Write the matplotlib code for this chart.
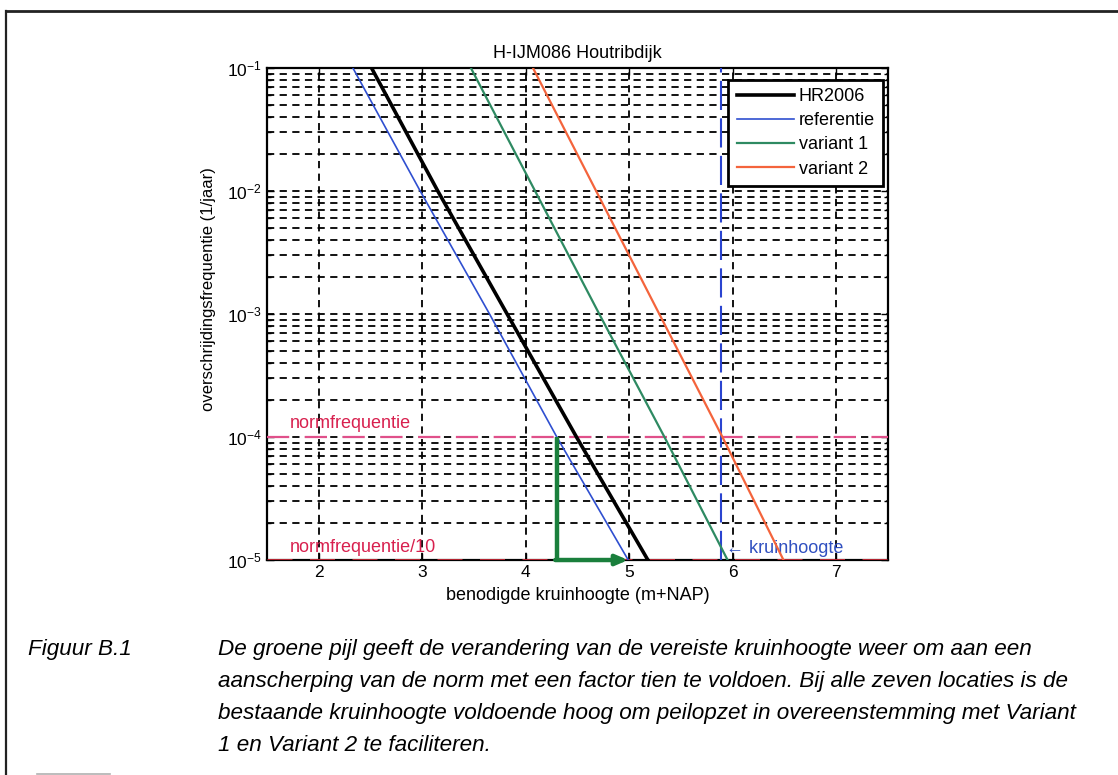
import numpy as np
import matplotlib
matplotlib.use("Agg")
import matplotlib.pyplot as plt
from matplotlib.lines import Line2D

plt.rcParams['font.family'] = ['Liberation Sans', 'DejaVu Sans']
plt.rcParams['mathtext.fontset'] = 'custom'
plt.rcParams['mathtext.rm'] = 'Liberation Sans'
plt.rcParams['mathtext.it'] = 'Liberation Sans:italic'
plt.rcParams['mathtext.bf'] = 'Liberation Sans:bold'

# overschrijdingsfrequentie (1/jaar) per decade
freq = [1e-1, 1e-2, 1e-3, 1e-4, 1e-5]
# benodigde kruinhoogte (m+NAP) bij die frequenties
hr2006 = [2.51, 3.15, 3.82, 4.49, 5.18]
referentie = [2.33, 2.98, 3.65, 4.30, 4.99]
variant1 = [3.47, 4.09, 4.71, 5.34, 5.95]
variant2 = [4.07, 4.68, 5.29, 5.90, 6.49]

series_names = ['HR2006', 'referentie', 'variant 1', 'variant 2']
series_vals = [hr2006, referentie, variant1, variant2]
series_cols = ['#000000', '#2f4fd0', '#2e8a62', '#f4643c']
series_lw = [2.6, 1.2, 1.6, 1.6]

norm = 1e-4
norm10 = norm / 10
kruinhoogte = 5.89
x_ticks = [2, 3, 4, 5, 6, 7]

fig = plt.figure(figsize=(11.18, 7.75), dpi=100)
ax = fig.add_axes([0.2388, 0.2774, 0.5555, 0.6349])

dash = (0, (4, 3))
ax.set_yscale('log')
ax.set_xlim(1.5, 7.5)
ax.set_ylim(norm10, 1e-1)
ax.set_xticks(x_ticks)
ax.grid(True, which='major', axis='both', color='k', ls=dash, lw=1.3)
ax.grid(True, which='minor', axis='y', color='k', ls=dash, lw=1.3)
ax.tick_params(which='both', direction='in', top=True, right=True,
               labelsize=12.5, width=1.0)
ax.tick_params(which='major', length=5)
ax.tick_params(which='minor', length=3)
for s in ax.spines.values():
    s.set_linewidth(1.6)

handles = []
for name, vals, col, lw in zip(series_names, series_vals, series_cols, series_lw):
    h, = ax.plot(vals, freq, color=col, lw=lw, label=name, zorder=4)
    handles.append(h)

# normlijnen
ax.axhline(norm, color='#e0508a', ls=(0, (10, 7)), lw=1.6, zorder=3)
ax.axhline(norm10, color='#ee3040', ls=(0, (10, 7)), lw=1.8, zorder=3)
ax.text(1.72, norm * 1.1, 'normfrequentie', color='#d8204e', fontsize=13,
        va='bottom', ha='left')
ax.text(1.72, norm10 * 1.08, 'normfrequentie/10', color='#d8204e', fontsize=13,
        va='bottom', ha='left')

# bestaande kruinhoogte
ax.axvline(kruinhoogte, color='#2a44d0', ls=(0, (14, 4)), lw=1.5, zorder=3)
ax.text(kruinhoogte + 0.04, norm10 * 1.06, '\u2190 kruinhoogte', color='#3050c0',
        fontsize=13, va='bottom', ha='left')

# groene pijl: verandering van de vereiste kruinhoogte
x_ref_norm = referentie[freq.index(norm)]
x_ref_norm10 = referentie[freq.index(norm10)]
ax.plot([x_ref_norm, x_ref_norm], [norm, norm10], color='#1a7f3c', lw=3.2,
        zorder=5, solid_capstyle='butt')
ax.annotate('', xy=(x_ref_norm10, norm10), xytext=(x_ref_norm - 0.015, norm10),
            arrowprops=dict(arrowstyle='-|>,head_length=0.7,head_width=0.3',
                            color='#1a7f3c', lw=3.2, shrinkA=0, shrinkB=0),
            zorder=5)

ax.set_title('H-IJM086 Houtribdijk', fontsize=13, pad=7)
ax.set_xlabel('benodigde kruinhoogte (m+NAP)', fontsize=13, labelpad=5)
ax.set_ylabel('overschrijdingsfrequentie (1/jaar)', fontsize=12, labelpad=4)
ax.yaxis.set_label_coords(-0.082, 0.55)

leg = ax.legend(handles=handles, loc='upper right', bbox_to_anchor=(0.992, 0.976),
                borderaxespad=0, fancybox=False, framealpha=1, edgecolor='k',
                fontsize=13, handlelength=3.2, labelspacing=0.4,
                borderpad=0.45, handletextpad=0.25)
leg.get_frame().set_linewidth(2.0)
leg.set_zorder(6)

# kader en bijschrift
fig.add_artist(Line2D([6 / 1118, 1.0], [1 - 11 / 775, 1 - 11 / 775],
                      color='#222222', lw=2.0))
fig.add_artist(Line2D([6 / 1118, 6 / 1118], [0, 1 - 11 / 775],
                      color='#222222', lw=1.6))
fig.add_artist(Line2D([37 / 1118, 110 / 1118], [1 / 775, 1 / 775],
                      color='#b0b0b0', lw=1.2))

caption = [
    'De groene pijl geeft de verandering van de vereiste kruinhoogte weer om aan een',
    'aanscherping van de norm met een factor tien te voldoen. Bij alle zeven locaties is de',
    'bestaande kruinhoogte voldoende hoog om peilopzet in overeenstemming met Variant',
    '1 en Variant 2 te faciliteren.',
]
fig.text(28 / 1118, 1 - 650 / 775, 'Figuur B.1', fontsize=16.2, style='italic',
         va='center', ha='left')
for i, line in enumerate(caption):
    fig.text(218 / 1118, 1 - (650 + 31.8 * i) / 775, line, fontsize=16.2,
             style='italic', va='center', ha='left')

fig.savefig('out.png', dpi=100)
